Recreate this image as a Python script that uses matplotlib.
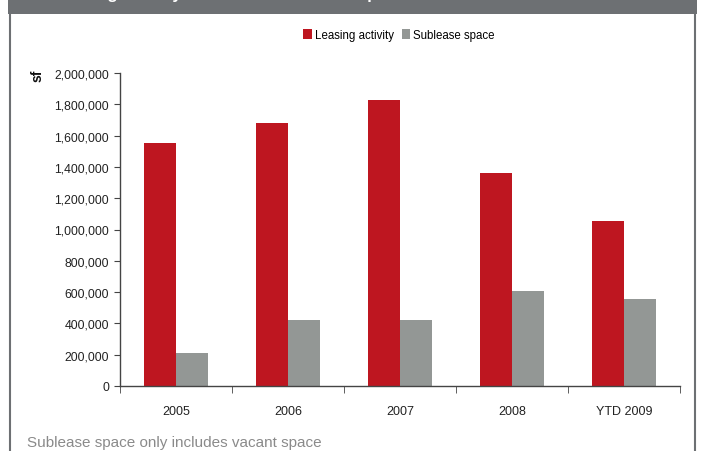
import numpy as np
import matplotlib
matplotlib.use("Agg")
import matplotlib.pyplot as plt
from matplotlib.lines import Line2D
from matplotlib.patches import Rectangle
from matplotlib.ticker import FuncFormatter

# data (sf)
years = ["2005", "2006", "2007", "2008", "YTD 2009"]
leasing = [1550000, 1680000, 1830000, 1360000, 1055000]
sublease = [210000, 420000, 420000, 607000, 556000]

red = "#BE1620"
grey = "#939795"

plt.rcParams['font.family'] = ['Liberation Sans Narrow', 'Liberation Sans', 'DejaVu Sans']

fig = plt.figure(figsize=(7.02, 4.52), dpi=100)
W, H = 702, 452

# grey header band, title is cut off at the top like in the source
fig.patches.append(Rectangle((8 / W, 1 - 15 / H), 689 / W, 15 / H, transform=fig.transFigure,
                             facecolor="#6D7073", edgecolor="none", zorder=0))
fig.text(55 / W, 1 + 1 / H, "Leasing Activity and Vacant Sublease Space", color="white",
         fontsize=12, fontweight="bold", va="baseline", ha="left")
# frame lines on both sides
fig.add_artist(Line2D([10 / W, 10 / W], [0, 1 - 15 / H], transform=fig.transFigure,
                      color="#6D7073", lw=1.5))
fig.add_artist(Line2D([695 / W, 695 / W], [0, 1 - 15 / H], transform=fig.transFigure,
                      color="#6D7073", lw=1.5))

ax = fig.add_axes([120 / W, (H - 387) / H, 560 / W, (387 - 74) / H])
x = np.arange(len(years))
bw = 0.29
ax.bar(x - bw / 2, leasing, bw, color=red, label="Leasing activity")
ax.bar(x + bw / 2, sublease, bw, color=grey, label="Sublease space")

ax.set_xlim(-0.5, len(years) - 0.5)
ax.set_ylim(0, 2000000)
ax.set_yticks(np.arange(0, 2000001, 200000))
ax.yaxis.set_major_formatter(FuncFormatter(lambda v, p: f"{int(v):,}"))
ax.set_xticks(x)
ax.set_xticklabels(years)
ax.set_xticks(np.arange(-0.5, len(years), 1), minor=True)
ax.tick_params(axis="x", which="major", length=0, pad=14, labelsize=9, colors="#222222")
ax.tick_params(axis="x", which="minor", length=5, color="#444444", direction="out")
ax.tick_params(axis="y", length=4, color="#444444", labelsize=8.8, labelcolor="#222222", pad=4)

for s in ["top", "right"]:
    ax.spines[s].set_visible(False)
for s in ["left", "bottom"]:
    ax.spines[s].set_color("#444444")
    ax.spines[s].set_linewidth(1)

fig.text(38 / W, 1 - 76 / H, "sf", rotation=90, fontweight="bold", fontsize=10,
         ha="center", va="center", color="#111111")

ax.legend(loc="upper left", bbox_to_anchor=(303 / W, 1 - 30 / H), bbox_transform=fig.transFigure,
          ncol=2, frameon=False, fontsize=8.3, handlelength=0.75, handleheight=0.85,
          handletextpad=0.25, columnspacing=0.7, borderaxespad=0, borderpad=0)

fig.text(27 / W, 1 - 443 / H, "Sublease space only includes vacant space", color="#8A8A8A",
         fontsize=11, ha="left", va="center")

fig.savefig("out.png", dpi=100)
